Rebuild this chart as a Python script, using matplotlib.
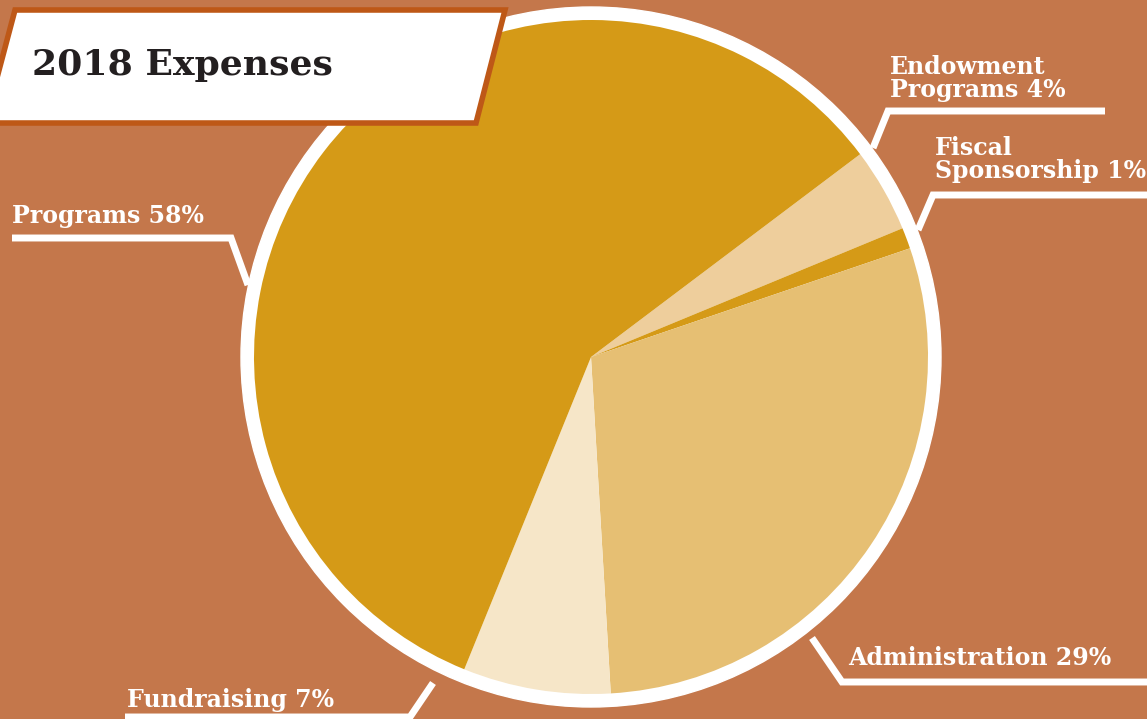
import matplotlib.pyplot as plt
from matplotlib.patches import Circle, Polygon

# Data (clockwise from upper right)
labels = ["Endowment\nPrograms", "Fiscal\nSponsorship", "Administration", "Fundraising", "Programs"]
shares = [4, 1, 29, 7, 58]
colors = ["#EECE9C", "#D59A17", "#E6BF73", "#F6E6C8", "#D59A17"]

bg = "#C4774B"
W, H = 1147, 719
cx, cy = 591, 357

fig = plt.figure(figsize=(W / 100, H / 100), dpi=100, facecolor=bg)
ax = fig.add_axes([0, 0, 1, 1])
ax.set_facecolor(bg)

# white ring behind the pie
ax.add_patch(Circle((cx, cy), 350, color="white", zorder=1))
wedges, _ = ax.pie(shares, colors=colors, startangle=-37, counterclock=True,
                   center=(cx, cy), radius=337,
                   wedgeprops=dict(linewidth=0))
for w in wedges:
    w.set_zorder(2)

ax.set_xlim(0, W)
ax.set_ylim(H, 0)
ax.set_aspect("equal")
ax.axis("off")

# leader lines (pixel layout)
leaders = [
    [(12, 238), (231, 238), (248, 285)],
    [(1105, 111), (888, 111), (873, 148)],
    [(1147, 195), (933, 195), (918, 230)],
    [(812, 638), (842, 682), (1147, 682)],
    [(125, 717), (410, 717), (433, 683)],
]
for pts in leaders:
    xs, ys = zip(*pts)
    ax.plot(xs, ys, color="white", lw=5, solid_joinstyle="miter",
            solid_capstyle="butt", zorder=3)

font = dict(family="DejaVu Serif", weight="bold", color="white", fontsize=17,
            va="bottom", ha="left", linespacing=0.95, zorder=4)
# (left x, bottom y of the text block)
label_pos = [(890, 102), (935, 183), (848, 670), (127, 712), (12, 228)]
for lab, val, (x, y) in zip(labels, shares, label_pos):
    ax.text(x, y, f"{lab} {val}%", **font)

# title box
ax.add_patch(Polygon([(15, 10), (505, 10), (476, 123), (-15, 123)], closed=True,
                     facecolor="white", edgecolor="#BE5817", lw=4, zorder=5))
ax.text(32, 75, "2018 Expenses", family="DejaVu Serif", weight="bold",
        fontsize=26, color="#231F20", va="baseline", ha="left", zorder=6)

fig.savefig("out.png", dpi=100, facecolor=bg)
